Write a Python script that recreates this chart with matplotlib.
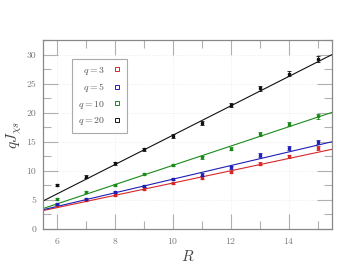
import matplotlib
matplotlib.use("Agg")
import matplotlib.pyplot as plt
import numpy as np
from matplotlib.ticker import MultipleLocator

plt.rcParams['mathtext.fontset'] = 'cm'
plt.rcParams['font.family'] = 'serif'
plt.rcParams['font.serif'] = ['cmr10', 'DejaVu Serif']
plt.rcParams['axes.formatter.use_mathtext'] = True

R = [6, 7, 8, 9, 10, 11, 12, 13, 14, 15]
labels = ['$q = 3$', '$q = 5$', '$q = 10$', '$q = 20$']
colors = ['#d62728', '#1f1fb4', '#1a8a1a', '#111111']
y_q3 = [4.2, 5.0, 5.9, 6.95, 7.9, 8.8, 9.8, 11.2, 12.5, 13.9]
y_q5 = [4.3, 5.1, 6.3, 7.4, 8.6, 9.3, 10.6, 12.7, 13.85, 14.9]
y_q10 = [5.2, 6.3, 7.6, 9.4, 11.0, 12.3, 13.8, 16.4, 18.05, 19.4]
y_q20 = [7.5, 9.0, 11.3, 13.7, 16.0, 18.2, 21.3, 24.2, 26.7, 29.3]
err_q3 = [0.15, 0.15, 0.2, 0.2, 0.2, 0.25, 0.25, 0.25, 0.3, 0.3]
err_q5 = [0.15, 0.15, 0.2, 0.2, 0.2, 0.25, 0.25, 0.3, 0.35, 0.35]
err_q10 = [0.15, 0.2, 0.2, 0.2, 0.25, 0.25, 0.3, 0.35, 0.35, 0.4]
err_q20 = [0.2, 0.2, 0.25, 0.25, 0.3, 0.3, 0.35, 0.4, 0.45, 0.5]
fit_slope = [1.055, 1.17, 1.655, 2.52]
fit_intercept = [-2.65, -3.135, -5.6, -9.06]
yticks = [0, 5, 10, 15, 20, 25, 30]
xticks = [6, 8, 10, 12, 14]

series = [y_q3, y_q5, y_q10, y_q20]
errs = [err_q3, err_q5, err_q10, err_q20]

fig = plt.figure(figsize=(3.44, 2.69), dpi=100)
ax = fig.add_axes([0.125, 0.149, 0.84, 0.702])

xl = (5.5, 15.5)
xs = np.linspace(xl[0], xl[1], 50)
for ys, es, c, lab, m, b in zip(series, errs, colors, labels, fit_slope, fit_intercept):
    ax.plot(xs, m * xs + b, color=c, lw=0.8, zorder=2)
    ax.errorbar(R, ys, yerr=es, fmt='s', color=c, ms=2.0, capsize=1.2,
                elinewidth=0.6, capthick=0.6, zorder=3)
    ax.plot([], [], 's', mfc='none', mec=c, ms=2.2, mew=0.7, label=lab)

ax.set_xlim(*xl)
ax.set_ylim(-0.001, 32.5)
ax.set_xticks(xticks)
ax.set_yticks(yticks)
ax.set_yticklabels([str(v) for v in yticks])
ax.xaxis.set_minor_locator(MultipleLocator(1))
ax.yaxis.set_minor_locator(MultipleLocator(2.5))
ax.tick_params(which='both', direction='in', top=True, right=True,
               color='#b0b0b0', labelcolor='#777777', labelsize=7, pad=5)
ax.tick_params(which='major', length=11, width=0.8)
ax.tick_params(which='minor', length=6, width=0.8)
for s in ax.spines.values():
    s.set_color('#888888')
    s.set_linewidth(0.9)
ax.grid(True, which='major', color='#e6e6e6', lw=0.5, ls=':')

ax.set_xlabel('$R$', fontsize=11, color='#444444', labelpad=2)
ax.set_ylabel(r'$qJ_{\chi s}$', fontsize=11, color='#444444', labelpad=2)

leg = ax.legend(loc='upper left', bbox_to_anchor=(0.10, 0.90), markerfirst=False,
                fontsize=7, fancybox=False, edgecolor='#aaaaaa', framealpha=1,
                labelspacing=0.45, handlelength=0.8, borderpad=0.6, handletextpad=0.9,
                borderaxespad=0)
leg.get_frame().set_linewidth(0.8)
for t in leg.get_texts():
    t.set_color('#555555')

fig.savefig('out.png', dpi=100)
